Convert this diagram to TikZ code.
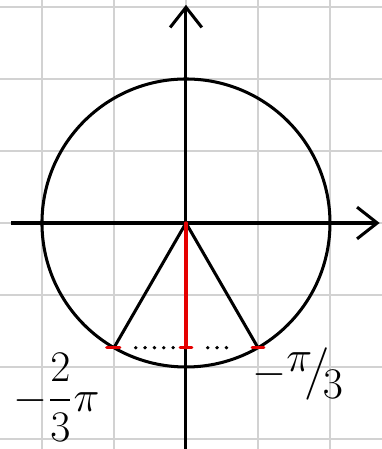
\documentclass[tikz,border=0pt]{standalone}
\usepackage{amsmath}
\usetikzlibrary{arrows.meta}

\begin{document}
\begin{tikzpicture}[line width=1.2pt,
    gridline/.style={gray!35, line width=0.8pt},
    axis/.style={-{Straight Barb[length=2.8mm, width=4.4mm, line width=1.2pt]}},
    redline/.style={red!90!black, line width=1.3pt, line cap=round},
    dotline/.style={line width=1.4pt, dash pattern=on 0.1pt off 3.6pt, line cap=round}]
    \useasboundingbox (-2.583,-3.139) rectangle (2.722,3.097);
    \draw[gridline] (-2.583,-3.139) grid (2.722,3.097);
    % points on the circle
    \coordinate (O) at (0,0);
    \coordinate (A) at (240:2);
    \coordinate (B) at (300:2);
    \coordinate (F) at (0,-1.732);
    \coordinate (xl) at (-2.43,0);
    \coordinate (xr) at (2.69,0);
    \coordinate (yb) at (0,-3.139);
    \coordinate (yt) at (0,3.03);
    \draw (O) circle (2);
    \draw[axis] (xl) -- (xr);
    \draw[axis] (yb) -- (yt);
    \draw (A) -- (O) -- (B);
    \draw[dotline] ([xshift=3mm]A) -- ([xshift=-1.5mm]F);
    \draw[dotline] ([xshift=3mm]F) -- ([xshift=-3.5mm]B);
    \draw[redline] (O) -- (F);
    \draw[redline] ([xshift=-0.1cm]A) -- ([xshift=0.08cm]A);
    \draw[redline] ([xshift=-0.08cm]F) -- ([xshift=0.08cm]F);
    \draw[redline] ([xshift=-0.08cm]B) -- ([xshift=0.08cm]B);
    \node[font=\LARGE] (lA) at (-1.8,-2.42) {$-\dfrac{2}{3}\pi$};
    \node[font=\LARGE] (lB) at (1.55,-2.1) {$-\raisebox{0.7ex}{$\pi$}\!\big/\!\raisebox{-0.7ex}{$3$}$};
\end{tikzpicture}
\end{document}
